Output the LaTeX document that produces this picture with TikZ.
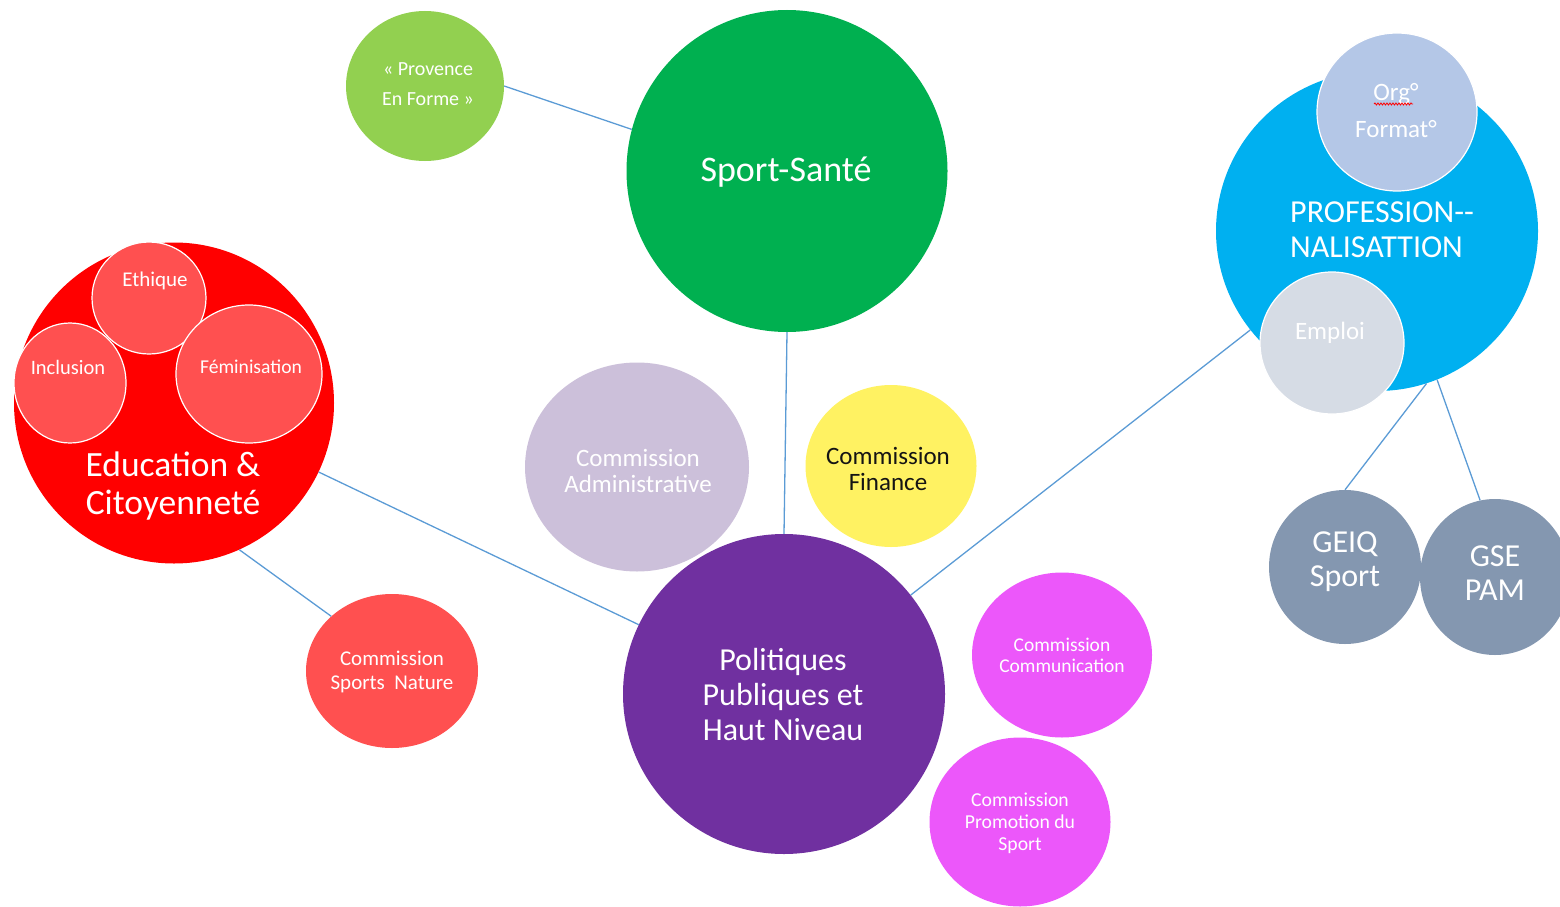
\documentclass[tikz,border=0pt]{standalone}
\usepackage{fontspec}
\setmainfont{Carlito}
\usetikzlibrary{shapes.geometric,decorations.pathmorphing}
\definecolor{lineblue}{RGB}{91,155,213}
\definecolor{cprov}{RGB}{146,208,80}
\definecolor{csport}{RGB}{0,176,80}
\definecolor{cred}{RGB}{255,0,0}
\definecolor{csalmon}{RGB}{255,80,80}
\definecolor{cadmin}{RGB}{204,192,218}
\definecolor{cfin}{RGB}{255,242,98}
\definecolor{cpol}{RGB}{112,48,160}
\definecolor{cpink}{RGB}{236,87,250}
\definecolor{cprof}{RGB}{0,176,240}
\definecolor{corg}{RGB}{180,199,231}
\definecolor{cemp}{RGB}{214,220,229}
\definecolor{cgray}{RGB}{132,151,176}
\definecolor{cdark}{RGB}{20,20,20}
\begin{document}
\begin{tikzpicture}[x=1pt,y=-1pt,
  bub/.style={ellipse,inner sep=0pt,draw=none},
  subb/.style={ellipse,inner sep=0pt,draw=white,line width=1.2pt},
  conn/.style={draw=lineblue,line width=1.3pt},
  lbl/.style={align=center,text=white,inner sep=0pt}]
\useasboundingbox (0,0) rectangle (1560,907);
\clip (0,0) rectangle (1560,907);

% main bubbles
\node[bub,fill=cprov,minimum width=158pt,minimum height=150pt] (prov) at (425,86) {};
\node[bub,fill=csport,minimum width=321pt,minimum height=322pt] (ss) at (787,171) {};
\node[bub,fill=cred,minimum width=320pt,minimum height=321pt] (edu) at (174,403) {};
\node[subb,fill=csalmon,minimum width=114pt,minimum height=112pt] (eth) at (149,298) {};
\node[subb,fill=csalmon,minimum width=112pt,minimum height=120pt] (inc) at (70,383) {};
\node[subb,fill=csalmon,minimum width=146pt,minimum height=138pt] (fem) at (249,374) {};
\node[bub,fill=cadmin,minimum width=224pt,minimum height=209pt] (adm) at (637,467) {};
\node[bub,fill=cfin,minimum width=171pt,minimum height=162pt] (fin) at (891,466) {};
\node[bub,fill=cpol,minimum width=322pt,minimum height=320pt] (pol) at (784,694) {};
\node[bub,fill=csalmon,minimum width=172pt,minimum height=154pt] (nat) at (392,671) {};
\node[bub,fill=cpink,minimum width=180pt,minimum height=165pt] (com) at (1062,655) {};
\node[bub,fill=cpink,minimum width=181pt,minimum height=169pt] (pro) at (1020,822) {};
\node[bub,fill=cprof,minimum width=322pt,minimum height=320pt] (prof) at (1377,231) {};
\node[subb,fill=corg,minimum width=160pt,minimum height=158pt] (org) at (1397,112) {};
\node[subb,fill=cemp,minimum width=144pt,minimum height=142pt] (emp) at (1332,343) {};
\node[bub,fill=cgray,minimum width=152pt,minimum height=154pt] (geiq) at (1345,567) {};
\node[bub,fill=cgray,minimum width=150pt,minimum height=156pt] (gse) at (1495,577) {};

% connectors
\draw[conn] (prov.east) -- (ss.165);
\draw[conn] (ss.south) -- (pol.north);
\draw[conn] (edu) -- (pol);
\draw[conn] (edu.-66) -- (nat.138);
\draw[conn] (pol) -- (prof);
\draw[conn] (prof.-72) -- (geiq.north);
\draw[conn] (prof.-68) -- (gse.101);

% labels
\node[lbl,font=\fontsize{20}{30}\selectfont] (provT) at (428,84) {« Provence\\En Forme »};
\node[lbl,font=\fontsize{36}{40}\selectfont] (ssT) at (786,172) {Sport-Santé};
\node[lbl,font=\fontsize{35.5}{38}\selectfont] (eduT) at (173,486) {Education \&\\Citoyenneté};
\node[lbl,font=\fontsize{21}{22}\selectfont] (ethT) at (155,281) {Ethique};
\node[lbl,font=\fontsize{20.5}{22}\selectfont] (incT) at (68,367) {Inclusion};
\node[lbl,font=\fontsize{19.6}{22}\selectfont] (femT) at (251,367) {Féminisation};
\node[lbl,font=\fontsize{25}{26}\selectfont] (admT) at (638,471) {Commission\\Administrative};
\node[lbl,text=cdark,font=\fontsize{25}{26}\selectfont] (finT) at (888,469) {Commission\\Finance};
\node[lbl,font=\fontsize{32}{35}\selectfont] (polT) at (783,694) {Politiques\\Publiques et\\Haut Niveau};
\node[lbl,font=\fontsize{21}{24}\selectfont] (natT) at (392,672) {Commission\\Sports~~Nature};
\node[lbl,font=\fontsize{19.5}{21}\selectfont] (comT) at (1062,655) {Commission\\Communication};
\node[lbl,font=\fontsize{19.7}{22}\selectfont] (proT) at (1020,823) {Commission\\Promotion du\\Sport};
\node[lbl,align=left,anchor=west,font=\fontsize{32}{35}\selectfont] (profT) at (1290,230) {PROFESSION-{}-\\NALISATTION};
\node[lbl,font=\fontsize{25}{37}\selectfont] (orgT) at (1396,111) {Org°\\Format°};
\node[lbl,font=\fontsize{25}{26}\selectfont] (empT) at (1330,333) {Emploi};
\node[lbl,font=\fontsize{32}{34}\selectfont] (geiqT) at (1345,562) {GEIQ\\Sport};
\node[lbl,font=\fontsize{32}{34}\selectfont] (gseT) at (1495,573) {GSE\\PAM};

% spell-check underline under Org
\coordinate (wa) at (1374,104);
\coordinate (wb) at (1413,104);
\draw[red,line width=0.8pt,decorate,decoration={snake,amplitude=1pt,segment length=3pt}] (wa) -- (wb);
\end{tikzpicture}
\end{document}
